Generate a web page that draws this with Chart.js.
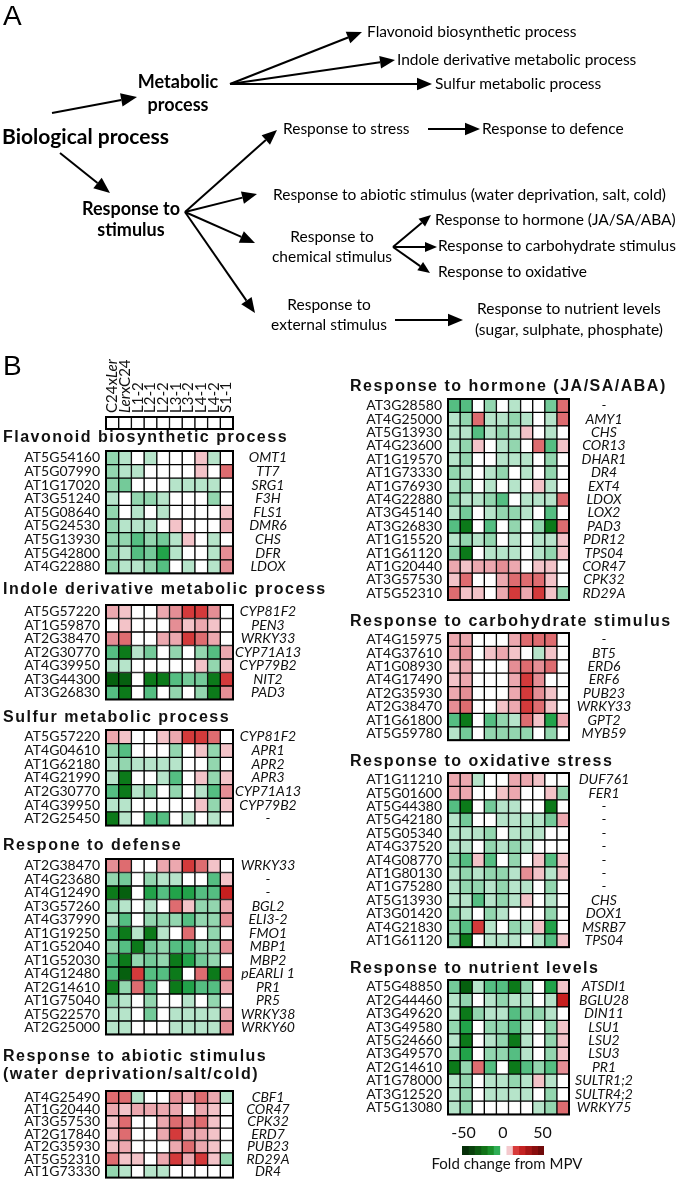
<!DOCTYPE html>
<html lang="en">
<head>
<meta charset="UTF-8">
<title>GO categories heatmap</title>
<script src="https://cdn.jsdelivr.net/npm/chart.js"></script>
<style>
  body { margin: 0; background: #fff; }
  #page { position: relative; width: 677px; height: 1192px; }
  #page canvas { position: absolute; left: 0; top: 0; }
</style>
</head>
<body>
<div id="page"></div>
<script>
// ---------- data ----------
const samples = ['C24xLer', 'LerxC24', 'L1-2', 'L2-1', 'L2-2', 'L3-1', 'L3-2', 'L4-1', 'L4-2', 'S1-1'];

const flavonoidIds = ['AT5G54160', 'AT5G07990', 'AT1G17020', 'AT3G51240', 'AT5G08640', 'AT5G24530', 'AT5G13930', 'AT5G42800', 'AT4G22880'];
const flavonoidNames = ['OMT1', 'TT7', 'SRG1', 'F3H', 'FLS1', 'DMR6', 'CHS', 'DFR', 'LDOX'];
const flavonoidValues = [
  [-20, -15, 0, -15, 0, 0, 0, 15, -15, 0],
  [-20, -15, -15, 0, 0, 0, 0, 15, 0, 30],
  [-20, -25, 0, 0, 0, -15, -15, -15, -15, 0],
  [-15, 0, -20, -20, -15, 0, 0, 0, -20, 0],
  [-20, 0, -15, 0, -15, 0, 0, 0, 0, 15],
  [-20, -15, -15, -15, 0, 15, 0, 0, 0, 20],
  [-20, -20, -30, -20, -25, -15, 15, 0, -15, 0],
  [-20, -15, -30, -25, -40, -15, 0, 0, -15, 25],
  [-20, -15, -15, -20, -30, 0, -15, 0, -15, 25]
];

const indoleIds = ['AT5G57220', 'AT1G59870', 'AT2G38470', 'AT2G30770', 'AT4G39950', 'AT3G44300', 'AT3G26830'];
const indoleNames = ['CYP81F2', 'PEN3', 'WRKY33', 'CYP71A13', 'CYP79B2', 'NIT2', 'PAD3'];
const indoleValues = [
  [20, 15, 0, 0, 20, 25, 40, 40, 25, 0],
  [0, 15, 0, 0, 0, 25, 15, 20, 15, 0],
  [25, 30, 0, 0, 20, 20, 40, 30, 20, 0],
  [-30, -50, -15, -25, 0, -20, 0, -20, -30, 20],
  [-15, -15, 0, 0, 0, 0, 0, 15, -20, 15],
  [-60, -55, 0, -50, -45, -30, -25, -25, -50, 40],
  [-30, -50, 0, -35, 0, -20, 0, -20, -50, 25]
];

const sulfurIds = ['AT5G57220', 'AT4G04610', 'AT1G62180', 'AT4G21990', 'AT2G30770', 'AT4G39950', 'AT2G25450'];
const sulfurNames = ['CYP81F2', 'APR1', 'APR2', 'APR3', 'CYP71A13', 'CYP79B2', '-'];
const sulfurValues = [
  [20, 15, 0, 0, 10, 20, 40, 40, 30, 0],
  [-20, -30, 0, 0, 0, -20, 0, 15, -20, 15],
  [-15, -20, -15, -15, -15, -15, 0, 0, -20, 0],
  [-15, -50, 0, 0, -10, -30, 0, 15, -20, 15],
  [-30, -50, -15, -20, 0, -20, 0, -15, -30, 25],
  [-15, -15, 0, 0, 0, 0, 0, 15, -20, 15],
  [-50, -15, 0, -30, -35, 0, -15, 0, -15, 0]
];

const defenseIds = ['AT2G38470', 'AT4G23680', 'AT4G12490', 'AT3G57260', 'AT4G37990', 'AT1G19250', 'AT1G52040', 'AT1G52030', 'AT4G12480', 'AT2G14610', 'AT1G75040', 'AT5G22570', 'AT2G25000'];
const defenseNames = ['WRKY33', '-', '-', 'BGL2', 'ELI3-2', 'FMO1', 'MBP1', 'MBP2', 'pEARLI 1', 'PR1', 'PR5', 'WRKY38', 'WRKY60'];
const defenseValues = [
  [25, 30, 0, 0, 20, 20, 40, 30, 15, 0],
  [-20, -25, 0, -20, -15, -15, 0, 0, -35, 15],
  [-50, -60, 0, -40, -30, -40, -40, -30, -35, 50],
  [-20, -10, 0, -15, 0, 30, 15, -20, -20, 20],
  [-15, -30, 0, -20, -20, -20, -30, -20, -20, 25],
  [-30, -50, -15, -50, -15, 0, 35, 0, -20, 0],
  [-20, -30, -50, -25, -20, -30, -30, -20, -20, 25],
  [-30, -50, -20, -25, -20, -50, -40, -25, -20, 0],
  [-30, -60, 40, -30, -30, -50, 0, 30, -50, 35],
  [-50, -20, 35, -30, 0, -50, -40, -30, -30, 20],
  [-20, -15, 0, -20, 0, 0, -15, 0, -20, 0],
  [-15, -15, 0, -25, 0, -15, -15, -15, -15, 20],
  [-15, -15, 0, 0, 0, -15, -15, -15, -15, 25]
];

const abioticIds = ['AT4G25490', 'AT1G20440', 'AT3G57530', 'AT2G17840', 'AT2G35930', 'AT5G52310', 'AT1G73330'];
const abioticNames = ['CBF1', 'COR47', 'CPK32', 'ERD7', 'PUB23', 'RD29A', 'DR4'];
const abioticValues = [
  [30, 30, -15, 0, 0, 25, 20, 30, 20, -15],
  [20, 15, 20, 20, 20, 20, 0, 20, 15, 0],
  [15, 30, 0, 0, 20, 30, 25, 30, 15, 0],
  [15, 30, 0, 0, 20, 40, 20, 20, 15, 0],
  [15, 20, 0, 0, 0, 20, 35, 20, 15, 0],
  [30, 15, 15, 0, 20, 45, 20, 45, 15, -20],
  [-20, -15, 0, -15, -15, 0, 0, 0, 0, 0]
];

const hormoneIds = ['AT3G28580', 'AT4G25000', 'AT5G13930', 'AT4G23600', 'AT1G19570', 'AT1G73330', 'AT1G76930', 'AT4G22880', 'AT3G45140', 'AT3G26830', 'AT1G15520', 'AT1G61120', 'AT1G20440', 'AT3G57530', 'AT5G52310'];
const hormoneNames = ['-', 'AMY1', 'CHS', 'COR13', 'DHAR1', 'DR4', 'EXT4', 'LDOX', 'LOX2', 'PAD3', 'PDR12', 'TPS04', 'COR47', 'CPK32', 'RD29A'];
const hormoneValues = [
  [-30, -35, 0, -20, 0, -15, 0, 0, -25, 30],
  [-15, -20, 30, -15, -15, -20, -15, 0, -15, 30],
  [-15, -15, -30, -15, -20, -15, 15, 0, -15, 0],
  [-15, -20, 15, 0, -15, -20, 0, 30, -30, 15],
  [-15, -20, 0, 0, -15, -15, -15, 0, -20, 0],
  [-20, -15, 0, -15, -20, 0, -15, 0, -20, 0],
  [-15, -20, 0, -15, 0, -15, 0, 15, -15, 0],
  [-20, -15, -15, -20, -30, 0, -15, -15, -15, 30],
  [-15, -25, 0, -15, -20, -20, -15, 0, -30, 0],
  [-30, -50, 0, -35, 0, -20, 0, -20, -50, 30],
  [-15, -20, -15, -20, 0, -15, 0, -15, -15, 15],
  [-20, -50, 0, -15, -15, -15, 0, -15, -20, 15],
  [20, 15, 20, 20, 25, 20, 0, 15, 15, 0],
  [15, 30, 0, 0, 20, 35, 30, 35, 15, 0],
  [30, 15, 15, 0, 20, 45, 20, 45, 15, -20]
];

const carbohydrateIds = ['AT4G15975', 'AT4G37610', 'AT1G08930', 'AT4G17490', 'AT2G35930', 'AT2G38470', 'AT1G61800', 'AT5G59780'];
const carbohydrateNames = ['-', 'BT5', 'ERD6', 'ERF6', 'PUB23', 'WRKY33', 'GPT2', 'MYB59'];
const carbohydrateValues = [
  [20, 20, 0, 0, 0, 20, 30, 30, 30, 0],
  [20, 25, 0, 15, 20, 15, 0, -10, 15, 0],
  [15, 20, 0, 0, 0, 25, 30, 25, 30, 0],
  [15, 20, 0, 0, 0, 20, 40, 25, 0, 0],
  [20, 25, 0, 0, 0, 20, 40, 25, 15, 0],
  [25, 30, 0, 0, 15, 20, 40, 30, 15, 0],
  [-30, -50, 0, -30, -20, -15, 30, 15, -40, 20],
  [-15, -25, 0, -20, -20, -20, -20, 0, -20, 0]
];

const oxidativeIds = ['AT1G11210', 'AT5G01600', 'AT5G44380', 'AT5G42180', 'AT5G05340', 'AT4G37520', 'AT4G08770', 'AT1G80130', 'AT1G75280', 'AT5G13930', 'AT3G01420', 'AT4G21830', 'AT1G61120'];
const oxidativeNames = ['DUF761', 'FER1', '-', '-', '-', '-', '-', '-', '-', 'CHS', 'DOX1', 'MSRB7', 'TPS04'];
const oxidativeValues = [
  [20, 20, -15, 0, 0, 20, 20, 15, 0, 0],
  [20, 20, 0, 0, 15, 20, 0, 0, 15, -20],
  [-30, -50, 0, -25, -15, -15, 0, 0, -50, 0],
  [-15, -25, 0, 0, -15, -15, -15, -15, -25, 20],
  [-15, -15, -15, -20, 0, -15, -15, -15, 0, 0],
  [-15, -15, 0, -20, -15, -20, -15, 0, 0, 0],
  [-20, -35, 15, -30, 0, -20, 0, 15, -30, 15],
  [-15, -20, -15, -20, -20, -15, 25, 15, -10, 15],
  [-15, -20, -20, -15, -20, -15, -15, 0, -20, 0],
  [-15, -15, -30, -15, -20, -15, 15, 0, -15, 0],
  [-20, -15, 0, -20, -15, 0, 0, 0, -20, 0],
  [-20, -35, 40, -15, 0, -20, -15, 15, -40, 0],
  [-20, -50, 0, -15, -15, -15, 0, -15, -30, 15]
];

const nutrientIds = ['AT5G48850', 'AT2G44460', 'AT3G49620', 'AT3G49580', 'AT5G24660', 'AT3G49570', 'AT2G14610', 'AT1G78000', 'AT3G12520', 'AT5G13080'];
const nutrientNames = ['ATSDI1', 'BGLU28', 'DIN11', 'LSU1', 'LSU2', 'LSU3', 'PR1', 'SULTR1;2', 'SULTR4;2', 'WRKY75'];
const nutrientValues = [
  [-25, -60, -15, -30, -30, -50, -20, 0, -40, 15],
  [-15, -20, 0, -15, -20, -15, -15, 0, -15, 50],
  [-15, -50, -20, -15, -15, -30, -20, -20, -15, 0],
  [-20, -40, 0, -20, -20, -30, -15, 0, -20, 15],
  [-15, -50, 0, -15, -20, -50, -15, 0, -20, 15],
  [-20, -40, 0, -20, -20, -30, -15, 0, -20, 15],
  [-50, -20, 30, -30, 0, -50, -30, -20, -30, 25],
  [-15, -20, 0, -15, -15, -20, -15, 15, -15, 0],
  [-15, -20, 0, -15, -15, -15, -15, 0, -20, 0],
  [-15, -20, 0, 0, 0, 0, 0, -15, -20, 30]
];

const legendTicks = [-50, 0, 50];
const legendStart = -52;
const legendStep = 8;
const legendColors = ['#062f08', '#0a420d', '#0d5a12', '#127318', '#1a8f2a', '#2fae55', '#ffffff', '#f4c9cd', '#d83a3a', '#c42222', '#a61616', '#8a0e0e', '#700a0a'];
const legendTitle = 'Fold change from MPV';

// ---------- setup ----------
const W = 677, H = 1192;
const page = document.getElementById('page');
const ID_FONT = { family: 'Lato', size: 14 };
const TITLE_FONT = 'bold 16px "Liberation Sans"';

function makeCanvas() {
  const c = document.createElement('canvas');
  c.width = W; c.height = H;
  c.style.width = W + 'px'; c.style.height = H + 'px';
  page.appendChild(c);
  return c;
}

function cellColor(v) {
  if (v <= -55) return '#06600f';
  if (v <= -45) return '#0c7a1a';
  if (v <= -38) return '#22a34a';
  if (v <= -28) return '#55be82';
  if (v <= -22) return '#74ca99';
  if (v <= -17) return '#93d6af';
  if (v <= -8) return '#b6e4ca';
  if (v < 8) return '#ffffff';
  if (v < 17) return '#f3c3c8';
  if (v < 22) return '#eca8af';
  if (v < 28) return '#e58e95';
  if (v < 38) return '#de6c70';
  if (v < 48) return '#d43a3b';
  return '#c71f1f';
}

function arrow(ctx, x1, y1, x2, y2, L, w) {
  const a = Math.atan2(y2 - y1, x2 - x1);
  const bx = x2 - L * Math.cos(a), by = y2 - L * Math.sin(a);
  ctx.beginPath(); ctx.moveTo(x1, y1); ctx.lineTo(bx, by); ctx.stroke();
  ctx.beginPath();
  ctx.moveTo(x2, y2);
  ctx.lineTo(bx + w * Math.sin(a), by - w * Math.cos(a));
  ctx.lineTo(bx - w * Math.sin(a), by + w * Math.cos(a));
  ctx.closePath(); ctx.fill();
}

// panel A: the GO tree
const treeBold = [
  ['Metabolic', 178, 82, 'center', 18], ['process', 178, 105, 'center', 18],
  ['Biological process', 2, 137, 'left', 21],
  ['Response to', 131, 209, 'center', 18], ['stimulus', 131, 230, 'center', 18]
];
const treeText = [
  ['Flavonoid biosynthetic process', 367, 32, 'left'],
  ['Indole derivative metabolic process', 397, 60, 'left'],
  ['Sulfur metabolic process', 435, 84, 'left'],
  ['Response to stress', 283, 129, 'left'],
  ['Response to defence', 482, 129, 'left'],
  ['Response to abiotic stimulus (water deprivation, salt, cold)', 273, 195, 'left'],
  ['Response to', 332, 237, 'center'], ['chemical stimulus', 332, 257, 'center'],
  ['Response to hormone (JA/SA/ABA)', 435, 220, 'left'],
  ['Response to carbohydrate stimulus', 438, 246, 'left'],
  ['Response to oxidative', 438, 272, 'left'],
  ['Response to', 329, 305, 'center'], ['external stimulus', 329, 325, 'center'],
  ['Response to nutrient levels', 477, 309, 'left'],
  ['(sugar, sulphate, phosphate)', 475, 330, 'left']
];
const treeArrows = [
  [52, 113, 137, 97, 16], [60, 153, 110, 193, 16],
  [230, 84, 362, 32, 15], [230, 84, 395, 60, 15], [230, 84, 432, 84, 15],
  [185, 212, 277, 130, 15], [185, 212, 257, 194, 15], [185, 212, 255, 243, 15], [185, 212, 255, 313, 15],
  [428, 129, 480, 129, 15],
  [393, 247, 431, 215, 12], [393, 247, 437, 247, 12], [393, 247, 430, 273, 12],
  [395, 320, 463, 320, 15]
];

const treePlugin = {
  id: 'tree',
  afterDraw(chart) {
    const ctx = chart.ctx;
    ctx.save();
    ctx.fillStyle = '#000'; ctx.strokeStyle = '#000'; ctx.lineWidth = 2;
    ctx.font = '28px "Liberation Sans"'; ctx.textBaseline = 'alphabetic'; ctx.textAlign = 'left';
    ctx.fillText('A', 3, 25);
    ctx.fillText('B', 3, 375);
    ctx.textBaseline = 'middle';
    treeBold.forEach(([t, x, y, al, size]) => {
      ctx.font = 'bold ' + size + 'px Lato'; ctx.textAlign = al; ctx.fillText(t, x, y);
    });
    ctx.font = '15.5px Lato';
    treeText.forEach(([t, x, y, al]) => { ctx.textAlign = al; ctx.fillText(t, x, y); });
    treeArrows.forEach(([x1, y1, x2, y2, L]) => arrow(ctx, x1, y1, x2, y2, L, L * 0.42));
    ctx.restore();
  }
};

new Chart(makeCanvas(), {
  type: 'scatter',
  data: { datasets: [] },
  options: {
    responsive: false, animation: false, events: [],
    scales: { x: { display: false }, y: { display: false } },
    plugins: { legend: { display: false }, tooltip: { enabled: false } }
  },
  plugins: [treePlugin]
});

// ---------- heatmaps ----------
function heatmap(ids, names, values, box) {
  const bottom = box.top + ids.length * box.rowH;
  const datasets = samples.map((s, c) => ({
    label: s,
    data: ids.map(() => 1),
    backgroundColor: values.map(row => cellColor(row[c])),
    borderColor: '#000',
    borderWidth: 1,
    borderSkipped: false,
    barPercentage: 1,
    categoryPercentage: 1
  }));
  const decor = {
    id: 'decor',
    afterDatasetsDraw(chart) {
      const ctx = chart.ctx, a = chart.chartArea;
      ctx.save();
      ctx.strokeStyle = '#000'; ctx.lineWidth = 2;
      ctx.strokeRect(a.left, a.top, a.right - a.left, a.bottom - a.top);
      ctx.restore();
    },
    afterDraw(chart) {
      const ctx = chart.ctx, ys = chart.scales.y, xs = chart.scales.x;
      ctx.save();
      ctx.fillStyle = '#111';
      ctx.textBaseline = 'middle';
      if (names) {
        ctx.font = 'italic 14px Lato'; ctx.textAlign = 'center';
        names.forEach((n, i) => ctx.fillText(n, box.nameX, ys.getPixelForValue(i)));
      }
      if (box.titles) {
        ctx.font = TITLE_FONT; ctx.textAlign = 'left'; ctx.letterSpacing = '1.5px';
        box.titles.forEach(([t, y]) => ctx.fillText(t, box.titleX, y));
        ctx.letterSpacing = '0px';
      }
      if (box.headers) {
        ctx.textBaseline = 'middle'; ctx.textAlign = 'left';
        samples.forEach((s, c) => {
          const x = xs.getPixelForValue(c + 0.5);
          ctx.save();
          ctx.translate(x, box.top - 4);
          ctx.rotate(-Math.PI / 2);
          let px = 0;
          s.split(/(Ler)/).filter(p => p).forEach(p => {
            ctx.font = (p === 'Ler' ? 'italic ' : '') + '15px Lato';
            ctx.fillText(p, px, 0);
            px += ctx.measureText(p).width;
          });
          ctx.restore();
        });
      }
      ctx.restore();
    }
  };
  new Chart(makeCanvas(), {
    type: 'bar',
    data: { labels: ids, datasets },
    options: {
      indexAxis: 'y', responsive: false, animation: false, events: [],
      layout: { padding: { top: box.top, bottom: H - bottom, left: 0, right: W - box.right } },
      scales: {
        x: { stacked: true, min: 0, max: samples.length, display: false },
        y: {
          stacked: true,
          grid: { display: false, drawTicks: false },
          border: { display: false },
          ticks: { display: !box.headers, font: ID_FONT, color: '#111', padding: 6, autoSkip: false },
          afterFit: s => { s.width = box.left; }
        }
      },
      plugins: { legend: { display: false }, tooltip: { enabled: false } }
    },
    plugins: [decor]
  });
}

const L = { left: 106, right: 233, nameX: 268, titleX: 3 };
const R = { left: 448, right: 569, nameX: 604, titleX: 350 };

heatmap([''], null, [samples.map(() => 0)], { ...L, top: 417, rowH: 12, headers: true });
heatmap(flavonoidIds, flavonoidNames, flavonoidValues, { ...L, top: 451, rowH: 13.6, titles: [['Flavonoid biosynthetic process', 438]] });
heatmap(indoleIds, indoleNames, indoleValues, { ...L, top: 605, rowH: 13.5, titles: [['Indole derivative metabolic process', 590]] });
heatmap(sulfurIds, sulfurNames, sulfurValues, { ...L, top: 730, rowH: 13.65, titles: [['Sulfur metabolic process', 718]] });
heatmap(defenseIds, defenseNames, defenseValues, { ...L, top: 859, rowH: 13.5, titles: [['Respone to defense', 846]] });
heatmap(abioticIds, abioticNames, abioticValues, { ...L, top: 1091, rowH: 13.6, titles: [['Response to abiotic stimulus', 1057], ['(water deprivation/salt/cold)', 1075]] });

heatmap(hormoneIds, hormoneNames, hormoneValues, { ...R, top: 399, rowH: 13.4, titles: [['Response to hormone (JA/SA/ABA)', 387]] });
heatmap(carbohydrateIds, carbohydrateNames, carbohydrateValues, { ...R, top: 633, rowH: 13.4, titles: [['Response to carbohydrate stimulus', 622]] });
heatmap(oxidativeIds, oxidativeNames, oxidativeValues, { ...R, top: 773, rowH: 13.4, titles: [['Response to oxidative stress', 762]] });
heatmap(nutrientIds, nutrientNames, nutrientValues, { ...R, top: 980, rowH: 13.45, titles: [['Response to nutrient levels', 969]] });

// ---------- colour key ----------
const keyBox = { left: 462, right: 544, top: 1146, bottom: 1155 };
const keyTitle = {
  id: 'keyTitle',
  afterDraw(chart) {
    const ctx = chart.ctx, a = chart.chartArea;
    ctx.save();
    ctx.fillStyle = '#111'; ctx.font = '15px Lato';
    ctx.textAlign = 'center'; ctx.textBaseline = 'middle';
    ctx.fillText(legendTitle, (a.left + a.right) / 2 + 4, a.bottom + 9);
    ctx.restore();
  }
};
new Chart(makeCanvas(), {
  type: 'bar',
  data: {
    labels: ['key'],
    datasets: legendColors.map((col, i) => ({
      data: [[legendStart + i * legendStep, legendStart + (i + 1) * legendStep]],
      backgroundColor: col, borderWidth: 0, grouped: false,
      barPercentage: 1, categoryPercentage: 1
    }))
  },
  options: {
    indexAxis: 'y', responsive: false, animation: false, events: [],
    layout: { padding: { left: keyBox.left, right: W - keyBox.right, top: keyBox.top - 20, bottom: H - keyBox.bottom } },
    scales: {
      x: {
        type: 'linear', position: 'top',
        min: legendStart, max: legendStart + legendColors.length * legendStep,
        grid: { display: false, drawTicks: false }, border: { display: false },
        ticks: { font: { family: 'Lato', size: 16 }, color: '#111', padding: 4 },
        afterBuildTicks: s => { s.ticks = legendTicks.map(v => ({ value: v })); },
        afterFit: s => { s.height = 20; }
      },
      y: { display: false }
    },
    plugins: { legend: { display: false }, tooltip: { enabled: false } }
  },
  plugins: [keyTitle]
});
</script>
</body>
</html>
